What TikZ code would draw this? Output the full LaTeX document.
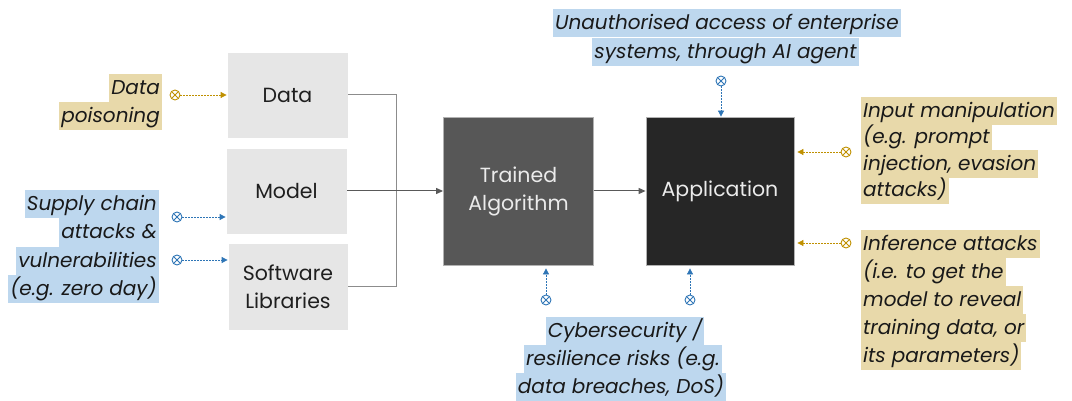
\documentclass[tikz,border=0pt]{standalone}
\usepackage{fontspec}
\setmainfont{Poppins}
\usetikzlibrary{arrows.meta}
\definecolor{hlblue}{HTML}{BDD7EE}
\definecolor{hlgold}{HTML}{E8D9AA}
\definecolor{arblue}{HTML}{2E75B6}
\definecolor{argold}{HTML}{BF9000}
\definecolor{boxlight}{HTML}{E6E6E6}
\definecolor{boxmid}{HTML}{575757}
\definecolor{boxdark}{HTML}{262626}
\definecolor{conn}{HTML}{8C8C8C}
\definecolor{conntip}{HTML}{595959}
\begin{document}
\begin{tikzpicture}[x=1pt,y=-1pt,
  hl/.style={inner xsep=2pt, inner ysep=4pt, text height=16.5pt, text depth=3.5pt,
    font=\fontsize{20}{24}\selectfont\itshape, text=black!90},
  hlb/.style={hl, fill=hlblue},
  hlg/.style={hl, fill=hlgold},
  lbox/.style={draw=white, line width=0.8pt, fill=boxlight, font=\fontsize{20.5}{28}\selectfont,
    text=black!88, align=center, inner sep=0pt},
  dbox/.style={draw=black!30, line width=0.8pt, font=\fontsize{20.5}{28}\selectfont,
    text=white!92!black, align=center, inner sep=0pt},
  threat/.style={circle, draw, line width=0.9pt, minimum size=10pt, inner sep=0pt,
    path picture={\draw[line width=0.9pt]
      (path picture bounding box.north west) -- (path picture bounding box.south east)
      (path picture bounding box.north east) -- (path picture bounding box.south west);}},
  threatb/.style={threat, color=arblue},
  threatg/.style={threat, color=argold},
  tarrow/.style={line width=0.8pt, dash pattern=on 1.6pt off 1.4pt,
    -{Triangle[length=6pt,width=6pt]}},
  conline/.style={draw=conn, line width=1pt}
]
\useasboundingbox (0,0) rectangle (1072,401);

% main boxes
\node[lbox, minimum width=121pt, minimum height=86pt] (data) at (287.5,95) {Data};
\node[lbox, minimum width=121pt, minimum height=86pt] (model) at (286.5,191) {Model};
\node[lbox, minimum width=120pt, minimum height=87pt] (soft) at (288,286.5) {Software\\Libraries};
\node[dbox, fill=boxmid, minimum width=150pt, minimum height=148pt] (trained) at (518.5,191) {Trained\\Algorithm};
\node[dbox, fill=boxdark, minimum width=148pt, minimum height=148pt] (app) at (720,191) {Application};

% gray connectors
\coordinate (join) at (396,191);
\draw[conline] (data.east) -| (join);
\draw[conline] (soft.east) -| (join);
\draw[conline, -{Triangle[length=7pt,width=6pt]}, conntip] (model.east) -- (trained.west);
\draw[conline, -{Triangle[length=7pt,width=6pt]}, conntip] (trained.east) -- (app.west);

% Data poisoning
\node[hlg, anchor=east] (dp1) at (162,88) {Data};
\node[hlg, anchor=east] (dp2) at (162,116) {poisoning};
\node[threatg] (dpx) at (175,95) {};
\draw[tarrow, argold] (dpx.east) -- (data.west);

% Supply chain
\node[hlb, anchor=east] (sc1) at (159,204) {Supply chain};
\node[hlb, anchor=east] (sc2) at (159,232.5) {attacks \&};
\node[hlb, anchor=east] (sc3) at (159,261) {vulnerabilities};
\node[hlb, anchor=east] (sc4) at (159,289) {(e.g. zero day)};
\node[threatb] (scx1) at (177,217) {};
\node[threatb] (scx2) at (177,260) {};
\draw[tarrow, arblue] (scx1.east) -- (scx1 -| model.west);
\draw[tarrow, arblue] (scx2.east) -- (scx2 -| soft.west);

% Unauthorised access
\node[hlb] (ua1) at (727,23.5) {Unauthorised access of enterprise};
\node[hlb] (ua2) at (725.5,52.5) {systems, through AI agent};
\node[threatb] (uax) at (721,81) {};
\draw[tarrow, arblue] (uax.south) -- (uax |- app.north);

% Cybersecurity
\node[hlb] (cy1) at (625,331) {Cybersecurity /};
\node[hlb] (cy2) at (623,359) {resilience risks (e.g.};
\node[hlb] (cy3) at (621,387) {data breaches, DoS)};
\node[threatb] (cyx1) at (546,300) {};
\node[threatb] (cyx2) at (690,300) {};
\draw[tarrow, arblue] (cyx1.north) -- ([yshift=-3pt]cyx1 |- trained.south);
\draw[tarrow, arblue] (cyx2.north) -- ([yshift=-3pt]cyx2 |- app.south);

% Input manipulation
\node[hlg, anchor=west] (im1) at (861,111) {Input manipulation};
\node[hlg, anchor=west] (im2) at (861,137.5) {(e.g. prompt};
\node[hlg, anchor=west] (im3) at (861,163.8) {injection, evasion};
\node[hlg, anchor=west] (im4) at (861,190) {attacks)};
\node[threatg] (imx) at (846,152) {};
\draw[tarrow, argold] (imx.west) -- ([xshift=3pt]imx -| app.east);

% Inference attacks
\node[hlg, anchor=west] (ia1) at (861,244) {Inference attacks};
\node[hlg, anchor=west] (ia2) at (861,272) {(i.e. to get the};
\node[hlg, anchor=west] (ia3) at (861,300) {model to reveal};
\node[hlg, anchor=west] (ia4) at (861,328) {training data, or};
\node[hlg, anchor=west] (ia5) at (861,356) {its parameters)};
\node[threatg] (iax) at (846,243) {};
\draw[tarrow, argold] (iax.west) -- ([xshift=3pt]iax -| app.east);
\end{tikzpicture}
\end{document}
